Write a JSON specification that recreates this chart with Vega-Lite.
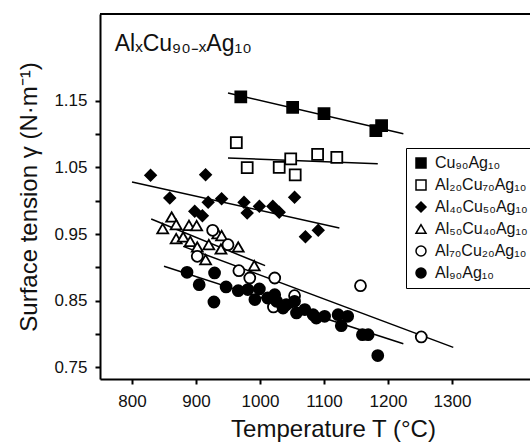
{
  "$schema": "https://vega.github.io/schema/vega-lite/v6.json",
  "width": 430,
  "height": 365,
  "autosize": {"type": "none"},
  "padding": {"left": 100, "top": 14, "right": 0, "bottom": 68},
  "background": "white",
  "config": {
    "view": {"stroke": null},
    "font": "Liberation Sans",
    "axis": {
      "domainColor": "black", "domainWidth": 2, "tickColor": "black", "tickWidth": 2, "tickSize": 5,
      "labelFont": "Liberation Sans", "labelFontSize": 17, "labelColor": "#111",
      "titleFont": "Liberation Sans", "titleFontSize": 24, "titleFontWeight": "normal", "titleColor": "#111",
      "grid": false
    },
    "legend": {
      "labelFont": "Liberation Sans", "labelFontSize": 16, "labelColor": "#111"
    }
  },
  "datasets": {
    "pts": [
      {"s": "Cu₉₀Ag₁₀", "T": 970, "g": 1.1556},
      {"s": "Cu₉₀Ag₁₀", "T": 1051, "g": 1.140},
      {"s": "Cu₉₀Ag₁₀", "T": 1100, "g": 1.1305},
      {"s": "Cu₉₀Ag₁₀", "T": 1181, "g": 1.105},
      {"s": "Cu₉₀Ag₁₀", "T": 1190, "g": 1.1125},
      {"s": "Al₂₀Cu₇₀Ag₁₀", "T": 963, "g": 1.087},
      {"s": "Al₂₀Cu₇₀Ag₁₀", "T": 980, "g": 1.0495},
      {"s": "Al₂₀Cu₇₀Ag₁₀", "T": 1030, "g": 1.050},
      {"s": "Al₂₀Cu₇₀Ag₁₀", "T": 1048, "g": 1.0626},
      {"s": "Al₂₀Cu₇₀Ag₁₀", "T": 1055, "g": 1.0386},
      {"s": "Al₂₀Cu₇₀Ag₁₀", "T": 1090, "g": 1.0695},
      {"s": "Al₂₀Cu₇₀Ag₁₀", "T": 1120, "g": 1.065},
      {"s": "Al₄₀Cu₅₀Ag₁₀", "T": 829, "g": 1.038},
      {"s": "Al₄₀Cu₅₀Ag₁₀", "T": 859, "g": 1.004},
      {"s": "Al₄₀Cu₅₀Ag₁₀", "T": 898, "g": 0.984},
      {"s": "Al₄₀Cu₅₀Ag₁₀", "T": 910, "g": 0.9775},
      {"s": "Al₄₀Cu₅₀Ag₁₀", "T": 915, "g": 1.039},
      {"s": "Al₄₀Cu₅₀Ag₁₀", "T": 919, "g": 0.9975},
      {"s": "Al₄₀Cu₅₀Ag₁₀", "T": 940, "g": 1.003},
      {"s": "Al₄₀Cu₅₀Ag₁₀", "T": 975, "g": 0.9975},
      {"s": "Al₄₀Cu₅₀Ag₁₀", "T": 980, "g": 0.9816},
      {"s": "Al₄₀Cu₅₀Ag₁₀", "T": 999, "g": 0.9915},
      {"s": "Al₄₀Cu₅₀Ag₁₀", "T": 1020, "g": 0.9915},
      {"s": "Al₄₀Cu₅₀Ag₁₀", "T": 1030, "g": 0.9825},
      {"s": "Al₄₀Cu₅₀Ag₁₀", "T": 1054, "g": 1.005},
      {"s": "Al₄₀Cu₅₀Ag₁₀", "T": 1071, "g": 0.946},
      {"s": "Al₄₀Cu₅₀Ag₁₀", "T": 1091, "g": 0.9555},
      {"s": "Al₅₀Cu₄₀Ag₁₀", "T": 862, "g": 0.9756},
      {"s": "Al₅₀Cu₄₀Ag₁₀", "T": 848, "g": 0.958},
      {"s": "Al₅₀Cu₄₀Ag₁₀", "T": 869, "g": 0.964},
      {"s": "Al₅₀Cu₄₀Ag₁₀", "T": 889, "g": 0.963},
      {"s": "Al₅₀Cu₄₀Ag₁₀", "T": 901, "g": 0.9625},
      {"s": "Al₅₀Cu₄₀Ag₁₀", "T": 869, "g": 0.943},
      {"s": "Al₅₀Cu₄₀Ag₁₀", "T": 880, "g": 0.9456},
      {"s": "Al₅₀Cu₄₀Ag₁₀", "T": 891, "g": 0.939},
      {"s": "Al₅₀Cu₄₀Ag₁₀", "T": 902, "g": 0.9306},
      {"s": "Al₅₀Cu₄₀Ag₁₀", "T": 920, "g": 0.934},
      {"s": "Al₅₀Cu₄₀Ag₁₀", "T": 934, "g": 0.9505},
      {"s": "Al₅₀Cu₄₀Ag₁₀", "T": 940, "g": 0.9475},
      {"s": "Al₅₀Cu₄₀Ag₁₀", "T": 939, "g": 0.9276},
      {"s": "Al₅₀Cu₄₀Ag₁₀", "T": 966, "g": 0.9306},
      {"s": "Al₅₀Cu₄₀Ag₁₀", "T": 915, "g": 0.9115},
      {"s": "Al₅₀Cu₄₀Ag₁₀", "T": 991, "g": 0.9026},
      {"s": "Al₇₀Cu₂₀Ag₁₀", "T": 902, "g": 0.9165},
      {"s": "Al₇₀Cu₂₀Ag₁₀", "T": 926, "g": 0.9555},
      {"s": "Al₇₀Cu₂₀Ag₁₀", "T": 950, "g": 0.934},
      {"s": "Al₇₀Cu₂₀Ag₁₀", "T": 967, "g": 0.895},
      {"s": "Al₇₀Cu₂₀Ag₁₀", "T": 984, "g": 0.884},
      {"s": "Al₇₀Cu₂₀Ag₁₀", "T": 1023, "g": 0.884},
      {"s": "Al₇₀Cu₂₀Ag₁₀", "T": 1021, "g": 0.8406},
      {"s": "Al₇₀Cu₂₀Ag₁₀", "T": 1054, "g": 0.8575},
      {"s": "Al₇₀Cu₂₀Ag₁₀", "T": 1157, "g": 0.8725},
      {"s": "Al₇₀Cu₂₀Ag₁₀", "T": 1252, "g": 0.7956},
      {"s": "Al₉₀Ag₁₀", "T": 886, "g": 0.8925},
      {"s": "Al₉₀Ag₁₀", "T": 929, "g": 0.8916},
      {"s": "Al₉₀Ag₁₀", "T": 905, "g": 0.874},
      {"s": "Al₉₀Ag₁₀", "T": 928, "g": 0.848},
      {"s": "Al₉₀Ag₁₀", "T": 947, "g": 0.8706},
      {"s": "Al₉₀Ag₁₀", "T": 966, "g": 0.865},
      {"s": "Al₉₀Ag₁₀", "T": 981, "g": 0.8666},
      {"s": "Al₉₀Ag₁₀", "T": 999, "g": 0.8676},
      {"s": "Al₉₀Ag₁₀", "T": 992, "g": 0.8516},
      {"s": "Al₉₀Ag₁₀", "T": 1012, "g": 0.854},
      {"s": "Al₉₀Ag₁₀", "T": 1023, "g": 0.859},
      {"s": "Al₉₀Ag₁₀", "T": 1026, "g": 0.849},
      {"s": "Al₉₀Ag₁₀", "T": 1036, "g": 0.839},
      {"s": "Al₉₀Ag₁₀", "T": 1041, "g": 0.844},
      {"s": "Al₉₀Ag₁₀", "T": 1054, "g": 0.849},
      {"s": "Al₉₀Ag₁₀", "T": 1057, "g": 0.8316},
      {"s": "Al₉₀Ag₁₀", "T": 1070, "g": 0.8366},
      {"s": "Al₉₀Ag₁₀", "T": 1083, "g": 0.829},
      {"s": "Al₉₀Ag₁₀", "T": 1088, "g": 0.824},
      {"s": "Al₉₀Ag₁₀", "T": 1101, "g": 0.8265},
      {"s": "Al₉₀Ag₁₀", "T": 1122, "g": 0.829},
      {"s": "Al₉₀Ag₁₀", "T": 1137, "g": 0.8265},
      {"s": "Al₉₀Ag₁₀", "T": 1127, "g": 0.8125},
      {"s": "Al₉₀Ag₁₀", "T": 1160, "g": 0.799},
      {"s": "Al₉₀Ag₁₀", "T": 1169, "g": 0.799},
      {"s": "Al₉₀Ag₁₀", "T": 1184, "g": 0.7676}
    ],
    "fits": [
      {"s": "Cu₉₀Ag₁₀", "T": 950, "g": 1.1616},
      {"s": "Cu₉₀Ag₁₀", "T": 1224, "g": 1.1005},
      {"s": "Al₂₀Cu₇₀Ag₁₀", "T": 950, "g": 1.064},
      {"s": "Al₂₀Cu₇₀Ag₁₀", "T": 1184, "g": 1.0555},
      {"s": "Al₄₀Cu₅₀Ag₁₀", "T": 800, "g": 1.028},
      {"s": "Al₄₀Cu₅₀Ag₁₀", "T": 1124, "g": 0.959},
      {"s": "Al₅₀Cu₄₀Ag₁₀", "T": 830, "g": 0.9726},
      {"s": "Al₅₀Cu₄₀Ag₁₀", "T": 1008, "g": 0.9025},
      {"s": "Al₇₀Cu₂₀Ag₁₀", "T": 880, "g": 0.9315},
      {"s": "Al₇₀Cu₂₀Ag₁₀", "T": 1302, "g": 0.78},
      {"s": "Al₉₀Ag₁₀", "T": 850, "g": 0.9015},
      {"s": "Al₉₀Ag₁₀", "T": 1224, "g": 0.7855}
    ],
    "one": [{"k": 1}]
  },
  "layer": [
    {
      "data": {"name": "fits"},
      "mark": {"type": "line", "color": "black", "strokeWidth": 1.5},
      "encoding": {
        "x": {"field": "T", "type": "quantitative", "scale": {"domain": [750, 1421.875], "nice": false, "zero": false},
              "axis": {"values": [800, 900, 1000, 1100, 1200, 1300], "format": "d", "title": "Temperature T (°C)", "labelPadding": 9, "titlePadding": 8, "titleX": 233, "labelFlush": false}},
        "y": {"field": "g", "type": "quantitative", "scale": {"domain": [0.7325, 1.28], "nice": false, "zero": false},
              "axis": {"values": [0.75, 0.8, 0.85, 0.9, 0.95, 1.0, 1.05, 1.1, 1.15], "labelExpr": "round(datum.value*100) % 10 == 5 ? format(datum.value, '.2f') : ''", "title": "Surface tension γ (N·m⁻¹)", "labelPadding": 8, "titlePadding": 12}},
        "detail": {"field": "s"}
      }
    },
    {
      "data": {"name": "pts"},
      "mark": {"type": "point", "filled": true, "stroke": "black", "strokeWidth": 1.8, "opacity": 1},
      "encoding": {
        "x": {"field": "T", "type": "quantitative"},
        "y": {"field": "g", "type": "quantitative"},
        "shape": {"field": "s", "type": "nominal",
          "scale": {"domain": ["Cu₉₀Ag₁₀", "Al₂₀Cu₇₀Ag₁₀", "Al₄₀Cu₅₀Ag₁₀", "Al₅₀Cu₄₀Ag₁₀", "Al₇₀Cu₂₀Ag₁₀", "Al₉₀Ag₁₀"],
                    "range": ["square", "square", "diamond", "triangle-up", "circle", "circle"]},
          "legend": {"title": null, "orient": "none", "legendX": 306, "legendY": 134, "strokeColor": "black", "padding": 7, "rowPadding": 6, "symbolSize": 100, "labelOffset": 6, "labelLimit": 200,
                     "encode": {"symbols": {"update": {"stroke": {"value": "black"}, "strokeWidth": {"value": 2}, "opacity": {"value": 1}}}}}},
        "fill": {"field": "s", "type": "nominal",
          "scale": {"domain": ["Cu₉₀Ag₁₀", "Al₂₀Cu₇₀Ag₁₀", "Al₄₀Cu₅₀Ag₁₀", "Al₅₀Cu₄₀Ag₁₀", "Al₇₀Cu₂₀Ag₁₀", "Al₉₀Ag₁₀"],
                    "range": ["black", "white", "black", "white", "white", "black"]},
          "legend": {"title": null, "orient": "none", "legendX": 306, "legendY": 134, "strokeColor": "black", "padding": 7, "rowPadding": 6, "symbolSize": 100, "labelOffset": 6, "labelLimit": 200,
                     "encode": {"symbols": {"update": {"stroke": {"value": "black"}, "strokeWidth": {"value": 2}, "opacity": {"value": 1}}}}}},
        "size": {"field": "s", "type": "nominal", "legend": null,
          "scale": {"domain": ["Al₉₀Ag₁₀", "Al₇₀Cu₂₀Ag₁₀", "Al₅₀Cu₄₀Ag₁₀", "Al₄₀Cu₅₀Ag₁₀", "Al₂₀Cu₇₀Ag₁₀", "Cu₉₀Ag₁₀"],
                    "range": [120, 120, 160, 150, 90, 90]}}
      }
    },
    {
      "data": {"name": "one"},
      "mark": {"type": "text", "align": "left", "baseline": "alphabetic", "fontSize": 23, "font": "Liberation Sans", "color": "#111"},
      "encoding": {
        "x": {"datum": 773},
        "y": {"datum": 1.224},
        "text": {"value": "AlₓCu₉₀₋ₓAg₁₀"}
      }
    },
    {
      "data": {"name": "one"},
      "mark": {"type": "rule", "color": "black", "strokeWidth": 2},
      "encoding": {"y": {"datum": 1.28}}
    }
  ]
}
